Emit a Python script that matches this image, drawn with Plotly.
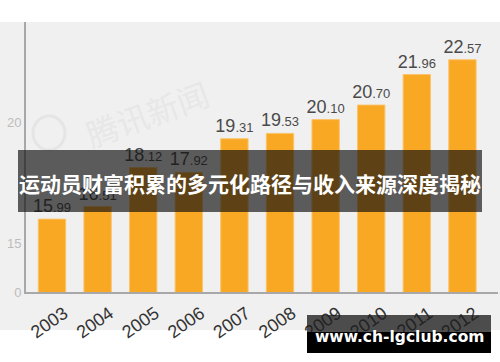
import plotly.graph_objects as go

years = ["2003", "2004", "2005", "2006", "2007", "2008", "2009", "2010", "2011", "2012"]
values = [15.99, 16.51, 18.12, 17.92, 19.31, 19.53, 20.10, 20.70, 21.96, 22.57]
ytick_vals = [12.98, 15, 20]
ytick_text = ["0", "15", "20"]
banner_title = "运动员财富积累的多元化路径与收入来源深度揭秘"
site_text = "www.ch-lgclub.com"

W, H = 500, 362
L, R, T, B = 26, 2, 22, 70
PW, PH = W - L - R, H - T - B


def px(x):
    return (x - L) / PW


def py(y):
    return (H - B - y) / PH


def fmt(v):
    s = f"{v:.2f}"
    a, b = s.split(".")
    return f"{a}<span style='font-size:13px'>.{b}</span>"


fig = go.Figure()
fig.add_trace(go.Bar(
    x=years, y=values,
    marker=dict(color="#f8a823", line=dict(color="#fbc46a", width=1)),
    text=[fmt(v) for v in values],
    textposition="outside",
    constraintext="none",
    cliponaxis=False,
    textfont=dict(family="Liberation Sans, Arial", size=18, color="#4a4a4a"),
    hoverinfo="skip",
))

shapes = [
    # grey backdrop
    dict(type="rect", xref="paper", yref="paper", x0=px(0), x1=px(W), y0=py(330), y1=py(22),
         fillcolor="#f0f0f0", line=dict(width=0), layer="below"),
    # faint logo circle of the source watermark
    dict(type="circle", xref="paper", yref="paper", x0=px(33), x1=px(65), y0=py(150), y1=py(116),
         line=dict(color="rgba(222,222,222,0.6)", width=3), layer="below"),
    # title banner
    dict(type="rect", xref="paper", yref="paper", x0=px(18), x1=px(482), y0=py(212), y1=py(150),
         fillcolor="rgba(14,14,14,0.66)", line=dict(width=0), layer="above"),
    # site banner
    dict(type="rect", xref="paper", yref="paper", x0=px(307), x1=px(491), y0=py(332), y1=py(315),
         fillcolor="rgba(30,30,30,0.78)", line=dict(width=0), layer="above"),
    dict(type="rect", xref="paper", yref="paper", x0=px(307), x1=px(491), y0=py(353), y1=py(332),
         fillcolor="#000000", line=dict(width=0), layer="above"),
]

annotations = [
    dict(text="腾讯新闻", xref="paper", yref="paper", x=px(147), y=py(113), showarrow=False,
         xanchor="center", yanchor="middle",
         textangle=-20, font=dict(family="Noto Sans CJK SC", size=32, color="rgba(222,222,222,0.5)")),
    dict(text="<b>" + banner_title + "</b>", xref="paper", yref="paper", x=px(250), y=py(183),
         xanchor="center", yanchor="middle",
         showarrow=False, font=dict(family="Noto Sans CJK SC", size=21, color="#ffffff")),
    dict(text="<b>" + site_text + "</b>", xref="paper", yref="paper", x=px(399), y=py(337),
         xanchor="center", yanchor="middle",
         showarrow=False, font=dict(family="DejaVu Sans", size=15.5, color="#ffffff")),
]

fig.update_layout(
    width=W, height=H,
    margin=dict(l=L, r=R, t=T, b=B),
    paper_bgcolor="#ffffff",
    plot_bgcolor="#f0f0f0",
    showlegend=False,
    bargap=0.4,
    shapes=shapes,
    annotations=annotations,
    xaxis=dict(
        type="category", range=[-0.57, 9.78],
        showline=True, linecolor="#a8a8a8", linewidth=2,
        showgrid=False, ticks="", tickangle=-35,
        ticklabelshift=12, ticklabelstandoff=2,
        tickfont=dict(family="Liberation Sans, Arial", size=18, color="#333333"),
    ),
    yaxis=dict(
        range=[12.98, 24.13],
        showline=True, linecolor="#a8a8a8", linewidth=2,
        showgrid=False, zeroline=False, ticks="",
        tickvals=ytick_vals, ticktext=ytick_text,
        tickfont=dict(family="Liberation Sans, Arial", size=13, color="#bcbcbc"),
    ),
)

fig.write_html("out.html")
